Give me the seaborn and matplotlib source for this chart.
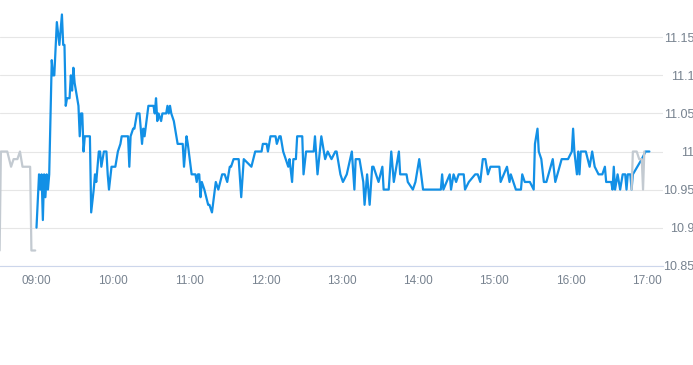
import matplotlib
matplotlib.use("Agg")
import matplotlib.pyplot as plt
import seaborn as sns
import pandas as pd

# ---- data (minutes relative to 09:00, price) ----
pre_minutes = [-29, -28, -23, -20, -18, -15, -13, -11, -5, -4, -1]
pre_prices = [10.87, 11.00, 11.00, 10.98, 10.99, 10.99, 11.00, 10.98, 10.98, 10.87, 10.87]

day_minutes = [0, 2, 3, 4, 5, 6, 7, 8, 9, 10, 12, 13, 14, 16, 18, 20, 21, 22, 23, 24,
               26, 27, 28, 29, 30, 33, 34, 35, 36, 37, 38, 42, 43, 45, 46, 47, 49, 50, 51, 53,
               55, 56, 57, 59, 62, 64, 66, 67, 72, 73, 74, 76, 77, 79, 81, 83, 84, 85, 88, 92,
               93, 94, 95, 96, 98, 99, 102, 103, 104, 105, 106, 108, 111, 115, 116, 118, 119, 122, 125, 126,
               127, 128, 129, 130, 132, 135, 136, 138, 141, 143, 146, 148, 150, 152, 153, 155, 159, 161, 163, 169,
               172, 177, 178, 181, 182, 184, 188, 189, 191, 192, 194, 196, 198, 199, 201, 202, 204, 205, 209, 210,
               212, 218, 219, 221, 224, 227, 229, 232, 235, 236, 239, 241, 244, 248, 250, 251, 254, 257, 258, 260,
               262, 264, 265, 269, 272, 273, 277, 279, 281, 285, 286, 291, 292, 296, 298, 301, 304, 318, 319, 320,
               325, 326, 328, 330, 332, 336, 337, 340, 345, 347, 349, 351, 353, 355, 357, 364, 365, 370, 372, 373,
               375, 377, 381, 382, 384, 388, 391, 392, 394, 395, 397, 399, 401, 406, 408, 413, 418, 421, 422, 423,
               425, 426, 427, 428, 432, 435, 437, 439, 442, 445, 447, 448, 452, 453, 454, 455, 457, 459, 461, 463,
               464, 465, 467, 468, 469, 476, 479, 482]
day_prices = [10.90, 10.97, 10.95, 10.97, 10.91, 10.97, 10.94, 10.97, 10.95, 10.97, 11.12, 11.10, 11.10, 11.17, 11.14, 11.18, 11.14, 11.14, 11.06, 11.07,
              11.07, 11.10, 11.08, 11.11, 11.09, 11.06, 11.02, 11.05, 11.05, 11.00, 11.02, 11.02, 10.92, 10.95, 10.97, 10.96, 11.00, 11.00, 10.98, 11.00,
              11.00, 10.97, 10.95, 10.98, 10.98, 11.00, 11.01, 11.02, 11.02, 10.98, 11.02, 11.03, 11.03, 11.05, 11.05, 11.01, 11.03, 11.02, 11.06, 11.06,
              11.05, 11.07, 11.04, 11.05, 11.04, 11.05, 11.05, 11.06, 11.05, 11.06, 11.05, 11.04, 11.01, 11.01, 10.98, 11.02, 11.01, 10.97, 10.97, 10.96,
              10.97, 10.97, 10.94, 10.96, 10.95, 10.93, 10.93, 10.92, 10.96, 10.95, 10.97, 10.97, 10.96, 10.98, 10.98, 10.99, 10.99, 10.94, 10.99, 10.98,
              11.00, 11.00, 11.01, 11.01, 11.00, 11.02, 11.02, 11.01, 11.02, 11.02, 11.00, 10.99, 10.98, 10.99, 10.96, 10.99, 10.99, 11.02, 11.02, 10.97,
              11.00, 11.00, 11.02, 10.97, 11.02, 10.99, 11.00, 10.99, 11.00, 11.00, 10.97, 10.96, 10.97, 11.00, 10.95, 10.99, 10.99, 10.96, 10.93, 10.97,
              10.93, 10.98, 10.98, 10.96, 10.98, 10.95, 10.95, 11.00, 10.96, 11.00, 10.97, 10.97, 10.96, 10.95, 10.96, 10.99, 10.95, 10.95, 10.97, 10.95,
              10.97, 10.95, 10.97, 10.96, 10.97, 10.97, 10.95, 10.96, 10.97, 10.97, 10.96, 10.99, 10.99, 10.97, 10.98, 10.98, 10.96, 10.98, 10.96, 10.97,
              10.96, 10.95, 10.95, 10.97, 10.96, 10.96, 10.95, 11.01, 11.03, 11.00, 10.99, 10.96, 10.96, 10.99, 10.96, 10.99, 10.99, 11.00, 11.03, 11.00,
              10.97, 11.00, 10.97, 11.00, 11.00, 10.98, 11.00, 10.98, 10.97, 10.97, 10.98, 10.96, 10.96, 10.95, 10.98, 10.95, 10.97, 10.95, 10.97, 10.97,
              10.95, 10.97, 10.97, 10.95, 10.97, 10.99, 11.00, 11.00]

post_minutes = [468, 469, 472, 474, 476, 477, 478]
post_prices = [10.95, 11.00, 11.00, 10.99, 10.99, 10.95, 11.00]

x_tick_minutes = [0, 60, 120, 180, 240, 300, 360, 420, 480]
x_tick_labels = ["09:00", "10:00", "11:00", "12:00", "13:00", "14:00", "15:00", "16:00", "17:00"]
y_ticks = [10.85, 10.9, 10.95, 11.0, 11.05, 11.1, 11.15]
y_tick_labels = ["10.85", "10.9", "10.95", "11", "11.05", "11.1", "11.15"]

assert len(day_minutes) == len(day_prices)

pre_df = pd.DataFrame({"minute": pre_minutes, "price": pre_prices})
day_df = pd.DataFrame({"minute": day_minutes, "price": day_prices})
post_df = pd.DataFrame({"minute": post_minutes, "price": post_prices})

sns.set_style("white")
plt.rcParams["font.family"] = ["Liberation Sans Narrow", "Liberation Sans", "DejaVu Sans"]

fig = plt.figure(figsize=(6.93, 3.65), dpi=100)
ax = fig.add_axes([0, 0.272, 663 / 693, 0.728])

blue = "#1290e6"
gray = "#c3cad1"
sns.lineplot(data=day_df, x="minute", y="price", ax=ax, color=blue, linewidth=1.6,
             estimator=None, sort=False)
sns.lineplot(data=pre_df, x="minute", y="price", ax=ax, color=gray, linewidth=1.6,
             estimator=None, sort=False)
sns.lineplot(data=post_df, x="minute", y="price", ax=ax, color=gray, linewidth=1.6,
             estimator=None, sort=False)

ax.set_xlim(-28.7, 492.7)
ax.set_ylim(10.85, 11.199)
ax.set_xlabel("")
ax.set_ylabel("")

ax.set_xticks(x_tick_minutes)
ax.set_xticklabels(x_tick_labels)
ax.set_yticks(y_ticks)
ax.set_yticklabels(y_tick_labels)
ax.yaxis.tick_right()

label_color = "#77828f"
ax.tick_params(axis="x", direction="out", length=4, width=0.8, color="#ccd6eb",
               labelsize=8.5, labelcolor=label_color, pad=3)
ax.tick_params(axis="y", length=0, labelsize=9, labelcolor=label_color, pad=22.5)
for lab in ax.get_yticklabels():
    lab.set_horizontalalignment("right")

ax.grid(axis="y", color="#e6e6e6", linewidth=0.8)
ax.grid(axis="x", visible=False)
ax.set_axisbelow(True)
for side in ["top", "left", "right"]:
    ax.spines[side].set_visible(False)
ax.spines["bottom"].set_color("#ccd6eb")
ax.spines["bottom"].set_linewidth(0.8)

fig.savefig("out.png", dpi=100)
